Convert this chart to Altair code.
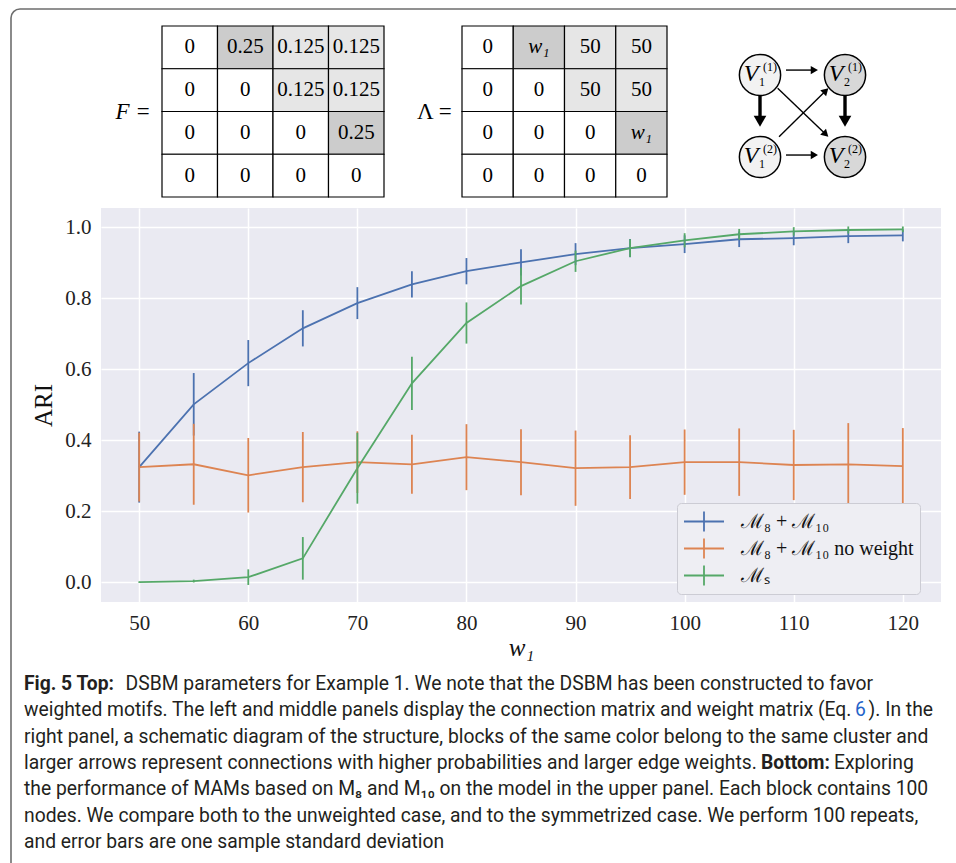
import math
import altair as alt
import pandas as pd

# ---------------- data ----------------
w1 = [50, 55, 60, 65, 70, 75, 80, 85, 90, 95, 100, 105, 110, 115, 120]
series_names = ["ℳ₈ + ℳ₁₀", "ℳ₈ + ℳ₁₀ no weight", "ℳₛ"]

weighted_mean = [0.324, 0.501, 0.617, 0.715, 0.786, 0.839, 0.876, 0.901, 0.924, 0.941, 0.952, 0.966, 0.969, 0.975, 0.977]
weighted_err = [0.100, 0.088, 0.065, 0.051, 0.045, 0.037, 0.037, 0.037, 0.031, 0.026, 0.025, 0.022, 0.020, 0.020, 0.017]
noweight_mean = [0.324, 0.332, 0.301, 0.324, 0.338, 0.332, 0.352, 0.338, 0.321, 0.324, 0.338, 0.338, 0.330, 0.332, 0.327]
noweight_err = [0.097, 0.114, 0.105, 0.099, 0.087, 0.083, 0.093, 0.093, 0.106, 0.090, 0.092, 0.095, 0.099, 0.116, 0.107]
sym_mean = [0.000, 0.003, 0.014, 0.067, 0.321, 0.560, 0.730, 0.834, 0.904, 0.941, 0.963, 0.980, 0.988, 0.992, 0.994]
sym_err = [0.002, 0.004, 0.022, 0.060, 0.100, 0.075, 0.058, 0.052, 0.030, 0.025, 0.020, 0.015, 0.012, 0.010, 0.008]

x_ticks = [50, 60, 70, 80, 90, 100, 110, 120]
y_ticks = [0.0, 0.2, 0.4, 0.6, 0.8, 1.0]

F_matrix = [["0", "0.25", "0.125", "0.125"],
            ["0", "0", "0.125", "0.125"],
            ["0", "0", "0", "0.25"],
            ["0", "0", "0", "0"]]
L_matrix = [["0", "w₁", "50", "50"],
            ["0", "0", "50", "50"],
            ["0", "0", "0", "w₁"],
            ["0", "0", "0", "0"]]

node_sub = ["1", "2", "1", "2"]
node_sup = ["(1)", "(1)", "(2)", "(2)"]
node_col = [0, 1, 0, 1]
node_row = [0, 0, 1, 1]
node_cluster = ["first", "second", "first", "second"]

# arrows in diagram grid units: start x, start y, tip x, tip y, heavy
arrow_x0 = [0.306, 0.306, 0.0, 1.0, 0.208, 0.224]
arrow_y0 = [-0.06, 0.976, 0.244, 0.244, 0.162, 0.752]
arrow_x1 = [0.682, 0.682, 0.0, 1.0, 0.804, 0.804]
arrow_y1 = [-0.06, 0.976, 0.63, 0.63, 0.752, 0.162]
arrow_heavy = [False, False, True, True, False, False]

caption_segments = [
    (0, "Fig. 5  Top:", "bold_l"),
    (0, "DSBM parameters for Example 1. We note that the DSBM has been constructed to favor", "normal_r"),
    (1, "weighted motifs. The left and middle panels display the connection matrix and weight matrix (Eq.", "normal_l"),
    (1, "6", "link_l"),
    (1, "). In the", "normal_r"),
    (2, "right panel, a schematic diagram of the structure, blocks of the same color belong to the same cluster and", "normal_l"),
    (3, "larger arrows represent connections with higher probabilities and larger edge weights.", "normal_l"),
    (3, "Bottom:", "bold_l"),
    (3, "Exploring", "normal_l"),
    (4, "the performance of MAMs based on M₈ and M₁₀ on the model in the upper panel. Each block contains 100", "normal_l"),
    (5, "nodes. We compare both to the unweighted case, and to the symmetrized case. We perform 100 repeats,", "normal_l"),
    (6, "and error bars are one sample standard deviation", "normal_l"),
]
# layout: page-pixel anchor of each caption segment
caption_anchor = [24, 873, 24, 855, 933, 24, 24, 761, 834, 24, 24, 24]

# ---------------- layout / style ----------------
W, H = 840, 394
PAD_L, PAD_T = 101, 208
SERIF = "Liberation Serif"
colors = ["#4C72B0", "#DD8452", "#55A868"]

# ---------------- main plot ----------------
rows = []
for name, means, errs in zip(series_names, [weighted_mean, noweight_mean, sym_mean],
                             [weighted_err, noweight_err, sym_err]):
    for x, m, e in zip(w1, means, errs):
        rows.append({"series": name, "w1": x, "ari": m, "lo": m - e, "hi": m + e})
main_df = pd.DataFrame(rows)

xs = alt.Scale(domain=[46.5, 123.5], nice=False, zero=False)
ys = alt.Scale(domain=[-0.056, 1.054], nice=False, zero=False)
cs = alt.Scale(domain=series_names, range=colors)

x_axis = alt.Axis(values=x_ticks, format="d", title="w₁", titleFont=SERIF, titleFontStyle="italic",
                  titleFontWeight="normal", titleFontSize=25, titleColor="#111", titlePadding=2,
                  labelFont=SERIF, labelFontSize=21, labelColor="#222", labelPadding=10,
                  domain=False, ticks=False, grid=True, gridColor="white", gridWidth=1.5)
y_axis = alt.Axis(values=y_ticks, format=".1f", title="ARI", titleFont=SERIF,
                  titleFontWeight="normal", titleFontSize=25, titleColor="#111", titlePadding=8,
                  labelFont=SERIF, labelFontSize=21, labelColor="#222", labelPadding=10,
                  domain=False, ticks=False, grid=True, gridColor="white", gridWidth=1.5)

legend = alt.Legend(title=None, orient="none", legendX=576, legendY=295,
                    symbolType="M-1,0L1,0M0,-0.5L0,0.5", symbolSize=1600, symbolStrokeWidth=1.8,
                    labelFont=SERIF, labelFontSize=20, labelColor="#111", labelLimit=400,
                    labelOffset=16, fillColor="#EEEEF3", strokeColor="#CCCCD4", cornerRadius=4,
                    padding=6, rowPadding=2, clipHeight=25)

base = alt.Chart(main_df)
lines = base.mark_line(strokeWidth=1.8).encode(
    x=alt.X("w1:Q", scale=xs, axis=x_axis),
    y=alt.Y("ari:Q", scale=ys, axis=y_axis),
    color=alt.Color("series:N", scale=cs, legend=legend, sort=series_names),
)
bars = base.mark_rule(strokeWidth=1.8).encode(
    x=alt.X("w1:Q", scale=xs),
    y=alt.Y("lo:Q", scale=ys),
    y2="hi:Q",
    color=alt.Color("series:N", scale=cs),
)
main = alt.layer(lines, bars)

# ---------------- matrices ----------------
shade_of = {"0": "white", "0.125": "light", "50": "light", "0.25": "dark", "w₁": "dark"}


def matrix_layer(mat, x_range, y_range, label, label_italic):
    recs = []
    for r, row in enumerate(mat):
        for c, v in enumerate(row):
            recs.append({"row": r, "col": c, "row1": r + 1, "col1": c + 1,
                         "cx": c + 0.5, "cy": r + 0.5, "val": v, "shade": shade_of[v]})
    df = pd.DataFrame(recs)
    mx = alt.Scale(domain=[0, 4], range=x_range, nice=False, zero=False)
    my = alt.Scale(domain=[0, 4], range=y_range, nice=False, zero=False)
    b = alt.Chart(df)
    cells = b.mark_rect(stroke="black", strokeWidth=1.2).encode(
        x=alt.X("col:Q", scale=mx, axis=None), x2="col1:Q",
        y=alt.Y("row:Q", scale=my, axis=None), y2="row1:Q",
        fill=alt.Fill("shade:N", scale=alt.Scale(domain=["white", "light", "dark"],
                                                  range=["#ffffff", "#e6e6e6", "#cccccc"]), legend=None),
    )
    nums = b.mark_text(font=SERIF, fontSize=21, color="black").transform_filter(
        alt.datum.val != "w₁").encode(
        x=alt.X("cx:Q", scale=mx, axis=None), y=alt.Y("cy:Q", scale=my, axis=None), text="val:N")
    ws = b.mark_text(font=SERIF, fontSize=21, fontStyle="italic", color="black").transform_filter(
        alt.datum.val == "w₁").encode(
        x=alt.X("cx:Q", scale=mx, axis=None), y=alt.Y("cy:Q", scale=my, axis=None), text="val:N")
    lab = alt.Chart(pd.DataFrame({"t": [label]})).mark_text(
        font=SERIF, fontSize=23, fontStyle="italic" if label_italic else "normal",
        align="right", color="black").encode(
        x=alt.X(datum=-0.2, scale=mx, axis=None), y=alt.Y(datum=2.0, scale=my, axis=None), text="t:N")
    return alt.layer(cells, nums, ws, lab)


F_layer = matrix_layer(F_matrix, [162 - PAD_L, 384 - PAD_L], [26 - PAD_T, 197 - PAD_T], "F =", True)
L_layer = matrix_layer(L_matrix, [462 - PAD_L, 667 - PAD_L], [26 - PAD_T, 197 - PAD_T], "Λ =", False)

# ---------------- diagram ----------------
DX_PX, DY_PX = 85.0, 82.0
gx = alt.Scale(domain=[0, 1], range=[760 - PAD_L, 845 - PAD_L], nice=False, zero=False)
gy = alt.Scale(domain=[0, 1], range=[75 - PAD_T, 157 - PAD_T], nice=False, zero=False)

arr = []
for x0, y0, x1, y1, heavy in zip(arrow_x0, arrow_y0, arrow_x1, arrow_y1, arrow_heavy):
    size = 160 if heavy else 70
    r = math.sqrt(size) / 2
    h = math.sqrt(3) / 2 * r
    dxp, dyp = (x1 - x0) * DX_PX, (y1 - y0) * DY_PX
    L = math.hypot(dxp, dyp)
    ux, uy = dxp / L, dyp / L
    hx = x1 - h * ux / DX_PX
    hy = y1 - h * uy / DY_PX
    ang = math.degrees(math.atan2(ux, -uy)) % 360
    arr.append({"x0": x0, "y0": y0, "hx": hx, "hy": hy, "ang": ang,
                "kind": "heavy" if heavy else "thin"})
arr_df = pd.DataFrame(arr)
ab = alt.Chart(arr_df)
shafts_thin = ab.transform_filter(alt.datum.kind == "thin").mark_rule(strokeWidth=1.4, color="black").encode(
    x=alt.X("x0:Q", scale=gx, axis=None), y=alt.Y("y0:Q", scale=gy, axis=None), x2="hx:Q", y2="hy:Q")
shafts_heavy = ab.transform_filter(alt.datum.kind == "heavy").mark_rule(strokeWidth=3.4, color="black").encode(
    x=alt.X("x0:Q", scale=gx, axis=None), y=alt.Y("y0:Q", scale=gy, axis=None), x2="hx:Q", y2="hy:Q")
heads_thin = ab.transform_filter(alt.datum.kind == "thin").mark_point(
    shape="triangle-up", size=70, filled=True, color="black", opacity=1).encode(
    x=alt.X("hx:Q", scale=gx, axis=None), y=alt.Y("hy:Q", scale=gy, axis=None),
    angle=alt.Angle("ang:Q", scale=None))
heads_heavy = ab.transform_filter(alt.datum.kind == "heavy").mark_point(
    shape="triangle-up", size=160, filled=True, color="black", opacity=1).encode(
    x=alt.X("hx:Q", scale=gx, axis=None), y=alt.Y("hy:Q", scale=gy, axis=None),
    angle=alt.Angle("ang:Q", scale=None))

nodes_df = pd.DataFrame({"col": node_col, "row": node_row, "cluster": node_cluster,
                         "sub": node_sub, "sup": node_sup, "v": ["V"] * 4})
nb = alt.Chart(nodes_df)
circles = nb.mark_point(shape="circle", size=1700, filled=True, stroke="black", strokeWidth=1.5,
                        opacity=1).encode(
    x=alt.X("col:Q", scale=gx, axis=None), y=alt.Y("row:Q", scale=gy, axis=None),
    fill=alt.Fill("cluster:N", scale=alt.Scale(domain=["first", "second"], range=["#f2f2f2", "#d8d8d8"]),
                  legend=None))
v_txt = nb.mark_text(font=SERIF, fontSize=24, fontStyle="italic", color="black", dx=-9, dy=-1).encode(
    x=alt.X("col:Q", scale=gx, axis=None), y=alt.Y("row:Q", scale=gy, axis=None), text="v:N")
sup_txt = nb.mark_text(font=SERIF, fontSize=12, color="black", dx=10, dy=-8).encode(
    x=alt.X("col:Q", scale=gx, axis=None), y=alt.Y("row:Q", scale=gy, axis=None), text="sup:N")
sub_txt = nb.mark_text(font=SERIF, fontSize=12, color="black", dx=2, dy=7).encode(
    x=alt.X("col:Q", scale=gx, axis=None), y=alt.Y("row:Q", scale=gy, axis=None), text="sub:N")
diagram = alt.layer(shafts_thin, shafts_heavy, heads_thin, heads_heavy, circles, v_txt, sup_txt, sub_txt)

# ---------------- caption ----------------
cap_df = pd.DataFrame({"line": [s[0] for s in caption_segments],
                       "txt": [s[1] for s in caption_segments],
                       "style": [s[2] for s in caption_segments],
                       "px": caption_anchor})
cxs = alt.Scale(domain=[0, 956], range=[-PAD_L, 956 - PAD_L], nice=False, zero=False)
cys = alt.Scale(domain=[0, 6], range=[684 - PAD_T, 842 - PAD_T], nice=False, zero=False)
CAP_FONT = "Roboto"
CAP_SIZE = 19.3


def cap_layer(style, align, weight, color):
    return alt.Chart(cap_df).transform_filter(alt.datum.style == style).mark_text(
        font=CAP_FONT, fontSize=CAP_SIZE, fontWeight=weight, align=align, baseline="middle", color=color).encode(
        x=alt.X("px:Q", scale=cxs, axis=None), y=alt.Y("line:Q", scale=cys, axis=None), text="txt:N")


caption = alt.layer(cap_layer("normal_l", "left", "normal", "#231f20"),
                    cap_layer("normal_r", "right", "normal", "#231f20"),
                    cap_layer("bold_l", "left", "bold", "#231f20"),
                    cap_layer("link_l", "left", "normal", "#2563c9"))

# ---------------- frame ----------------
frame = alt.Chart(pd.DataFrame({"a": [0]})).mark_rect(
    fillOpacity=0, stroke="#6e6e6e", strokeWidth=1.6, cornerRadius=9).encode(
    x=alt.value(11 - PAD_L), y=alt.value(9 - PAD_T), x2=alt.value(990 - PAD_L), y2=alt.value(900 - PAD_T))

chart = alt.layer(main, F_layer, L_layer, diagram, caption, frame).resolve_scale(
    x="independent", y="independent", color="independent", fill="independent"
).properties(
    width=W, height=H,
    padding={"left": PAD_L, "top": PAD_T, "right": 956 - PAD_L - W, "bottom": 863 - PAD_T - H},
    autosize=alt.AutoSizeParams(type="none"),
    background="white",
).configure_view(fill="#EAEAF2", stroke=None)

chart.save("out.html", embed_options={"renderer": "svg", "actions": False})
